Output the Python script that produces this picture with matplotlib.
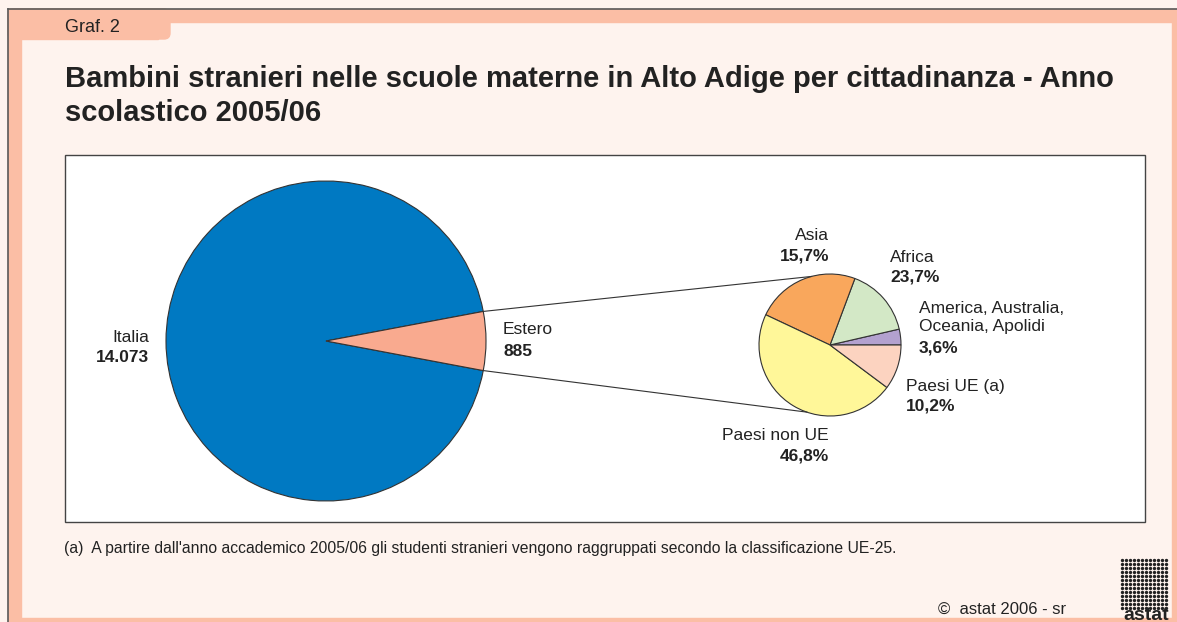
import numpy as np
import matplotlib.pyplot as plt
from matplotlib.patches import Rectangle, FancyBboxPatch

plt.rcParams['font.family'] = ['Liberation Sans', 'DejaVu Sans']

# Dati: grafico principale
paesi = ['Italia', 'Estero']
bambini = [14073, 885]
etichette_main = ['14.073', '885']

# Dati: dettaglio Estero (ordine antiorario a partire da destra)
gruppi = ['America, Australia,\nOceania, Apolidi', 'Africa', 'Asia', 'Paesi non UE', 'Paesi UE (a)']
quote = [3.6, 15.7, 23.7, 46.8, 10.2]
colori_dett = ['#B3A1CF', '#D3E8C6', '#F9A75C', '#FFF799', '#FCD3C0']

nota = ("(a)  A partire dall'anno accademico 2005/06 gli studenti stranieri vengono "
        "raggruppati secondo la classificazione UE-25.")

W, H = 1177, 622
fig = plt.figure(figsize=(W / 100, H / 100), dpi=100, facecolor='#FEF3EE')
ax = fig.add_axes([0, 0, 1, 1])
ax.set_facecolor('#FEF3EE')

salmone = '#FBBEA5'
bordo = '#5a5a5a'
# cornice
ax.add_patch(Rectangle((8, 600), W - 8, 13, color=salmone, zorder=1))
ax.add_patch(FancyBboxPatch((8, 583), 162, 30, boxstyle='round,pad=0,rounding_size=6',
                            color=salmone, zorder=1))
ax.add_patch(Rectangle((8, 583), 150, 30, color=salmone, zorder=1))
ax.add_patch(Rectangle((8, 0), 13, 613, color=salmone, zorder=1))
ax.add_patch(Rectangle((1172, 0), 5, 613, color=salmone, zorder=1))
ax.add_patch(Rectangle((8, 0), W - 8, 4, color=salmone, zorder=1))
ax.plot([8, W], [613, 613], color=bordo, lw=1.2, zorder=2)
ax.plot([8, 8], [0, 613], color=bordo, lw=1.2, zorder=2)

# riquadro bianco
ax.add_patch(Rectangle((65, 100), 1080, 367, facecolor='white', edgecolor='#444444',
                       lw=1.0, zorder=1))

col = '#222222'
ax.text(65, 594, 'Graf. 2', fontsize=13, color=col, va='center', ha='left', zorder=3)
ax.text(65, 535, 'Bambini stranieri nelle scuole materne in Alto Adige per cittadinanza - Anno',
        fontsize=21, fontweight='bold', color=col, va='baseline', ha='left')
ax.text(65, 501, 'scolastico 2005/06', fontsize=21, fontweight='bold', color=col,
        va='baseline', ha='left')

# torta principale
c_big = (326, 281)
r_big = 160
tot = sum(bambini)
half = 180 * bambini[1] / tot
ax.pie(bambini, colors=['#0079C2', '#F9AA8F'], startangle=half, center=c_big,
       radius=r_big, wedgeprops=dict(edgecolor='#333333', linewidth=0.8))

# torta di dettaglio
c_small = (830, 277)
r_small = 71
ax.pie(quote, colors=colori_dett, startangle=0, center=c_small, radius=r_small,
       wedgeprops=dict(edgecolor='#333333', linewidth=0.8))

# linee di collegamento
for a_big, a_small in [(half, 105), (-half, -109)]:
    x0 = c_big[0] + r_big * np.cos(np.radians(a_big))
    y0 = c_big[1] + r_big * np.sin(np.radians(a_big))
    x1 = c_small[0] + r_small * np.cos(np.radians(a_small))
    y1 = c_small[1] + r_small * np.sin(np.radians(a_small))
    ax.plot([x0, x1], [y0, y1], color='#333333', lw=0.8, zorder=3)

fs = 12.5
# etichette torta principale
ax.text(149, 285, paesi[0], fontsize=fs, color=col, ha='right', va='center')
ax.text(149, 265, etichette_main[0], fontsize=fs, fontweight='bold', color=col, ha='right', va='center')
ax.text(503, 292, paesi[1], fontsize=fs, color=col, ha='left', va='center')
ax.text(503, 270, etichette_main[1], fontsize=fs, fontweight='bold', color=col, ha='left', va='center')

def pct(v):
    return f'{v:.1f}%'.replace('.', ',')

# etichette dettaglio (posizioni come nell'originale)
lab_pos = {
    'Asia': (829, 386, 'right', 15.7),
    'Africa': (890, 365, 'left', 23.7),
    'America, Australia,\nOceania, Apolidi': (919, 304.5, 'left', 3.6),
    'Paesi UE (a)': (906, 236, 'left', 10.2),
    'Paesi non UE': (829, 186, 'right', 46.8),
}
for g in gruppi:
    x, y, ha, v = lab_pos[g]
    n = g.count('\n')
    ax.text(x, y, g, fontsize=fs, color=col, ha=ha, va='center', linespacing=1.3)
    ax.text(x, y - 20 - n * 10.5, pct(v), fontsize=fs, fontweight='bold', color=col,
            ha=ha, va='center')

ax.text(64, 73, nota, fontsize=11.3, color=col, ha='left', va='center')
ax.text(938, 13, '\u00a9  astat 2006 - sr', fontsize=12, color=col, ha='left', va='center')

# logo astat (semplificato)
gx, gy = np.meshgrid(np.arange(1122, 1168, 4), np.arange(14, 66, 4))
ax.scatter(gx.ravel(), gy.ravel(), s=2, color='#222222', zorder=3)
ax.text(1146, -2, 'astat', fontsize=14, fontweight='bold', color='#222222',
        ha='center', va='bottom', zorder=3)

ax.set_xlim(0, W)
ax.set_ylim(0, H)
ax.set_aspect('auto')
ax.axis('off')

fig.savefig('out.png', dpi=100, facecolor=fig.get_facecolor())
